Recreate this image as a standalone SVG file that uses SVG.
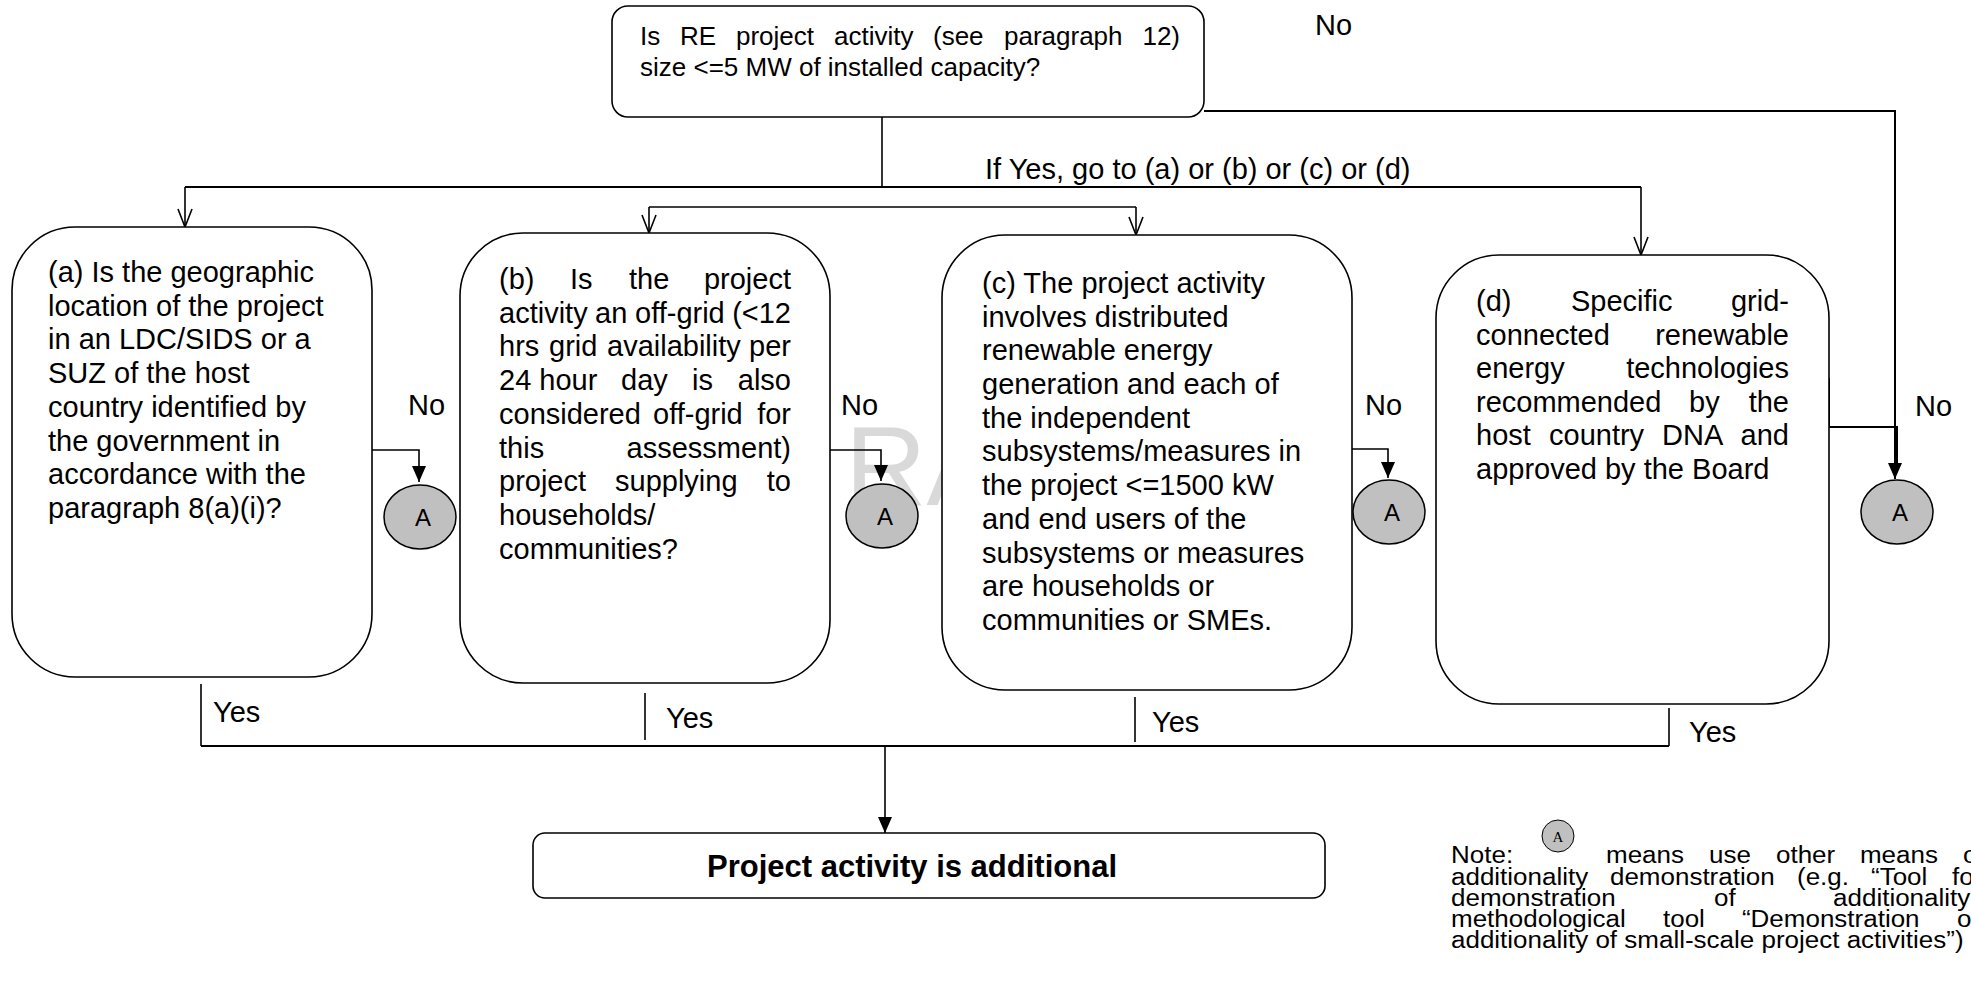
<svg xmlns="http://www.w3.org/2000/svg" width="1971" height="987" viewBox="0 0 1971 987">
<style>
.box{fill:#fff;stroke:#000;stroke-width:1.6}
.ln{fill:none;stroke:#000;stroke-width:1.6}
.lnb{fill:none;stroke:#000;stroke-width:2}
.t{font-family:"Liberation Sans",Arial,sans-serif;font-size:29px;fill:#000}
.tt{font-family:"Liberation Sans",Arial,sans-serif;font-size:26px;fill:#000}
.tn{font-family:"Liberation Sans",Arial,sans-serif;font-size:23px;fill:#000}
.e{text-anchor:end}
.circ{fill:#c0c0c0;stroke:#000;stroke-width:1.5}
.ca{font-family:"Liberation Sans",Arial,sans-serif;font-size:24px;fill:#000;text-anchor:middle}
.wm{font-family:"Liberation Sans",Arial,sans-serif;font-size:113px;fill:#d9d9d9}
</style>
<defs>
<marker id="open" viewBox="0 0 20 16" refX="19" refY="8" markerWidth="20" markerHeight="16" markerUnits="userSpaceOnUse" orient="auto"><path d="M1,1 L19,8 L1,15" fill="none" stroke="#000" stroke-width="1.6"/></marker>
<marker id="fill" viewBox="0 0 16 14" refX="16" refY="7" markerWidth="16" markerHeight="14" markerUnits="userSpaceOnUse" orient="auto"><path d="M0,0 L16,7 L0,14 z" fill="#000"/></marker>
</defs>
<rect width="1971" height="987" fill="#fff"/>
<text class="wm" x="845" y="505">RA</text>

<g id="connectors">
<path class="ln" d="M882,117 V187"/>
<path class="lnb" d="M185,187 H1641"/>
<path class="ln" d="M185,187 V227" marker-end="url(#open)"/>
<path class="ln" d="M649,207 H1136"/>
<path class="ln" d="M649,207 V233" marker-end="url(#open)"/>
<path class="ln" d="M1136,207 V235" marker-end="url(#open)"/>
<path class="ln" d="M1641,187 V255" marker-end="url(#open)"/>
<path class="lnb" d="M1204,111 H1895 V479" marker-end="url(#fill)"/>
<path class="lnb" d="M1829,378 V427 H1897 V466"/>
<path class="ln" d="M372,450 H419 V482" marker-end="url(#fill)"/>
<path class="ln" d="M830,450 H881 V481" marker-end="url(#fill)"/>
<path class="ln" d="M1352,449 H1388 V478" marker-end="url(#fill)"/>
<path class="ln" d="M201,684 V746"/>
<path class="ln" d="M645,693 V740"/>
<path class="ln" d="M1135,697 V742"/>
<path class="ln" d="M1669,708 V746"/>
<path class="lnb" d="M201,746 H1669"/>
<path class="ln" d="M885,746 V833" marker-end="url(#fill)"/>
</g>

<g id="labels">
<text class="t" x="1315" y="35">No</text>
<text class="t" x="985" y="179">If Yes, go to (a) or (b) or (c) or (d)</text>
<text class="t" x="408" y="415">No</text>
<text class="t" x="841" y="415">No</text>
<text class="t" x="1365" y="415">No</text>
<text class="t" x="1915" y="416">No</text>
<text class="t" x="213" y="722">Yes</text>
<text class="t" x="666" y="728">Yes</text>
<text class="t" x="1152" y="732">Yes</text>
<text class="t" x="1689" y="742">Yes</text>
</g>

<g id="node-top">
<rect class="box" x="612" y="6" width="592" height="111" rx="16"/>
<text class="tt" y="45"><tspan x="640">Is</tspan><tspan x="680">RE</tspan><tspan x="736">project</tspan><tspan x="834">activity</tspan><tspan x="933">(see</tspan><tspan x="1004">paragraph</tspan></text>
<text class="tt e" x="1180" y="45">12)</text>
<text class="tt" x="640" y="76">size &lt;=5 MW of installed capacity?</text>
</g>

<g id="node-a">
<rect class="box" x="12" y="227" width="360" height="450" rx="63"/>
<text class="t">
<tspan x="48" y="282">(a) Is the geographic</tspan>
<tspan x="48" y="316">location of the project</tspan>
<tspan x="48" y="349">in an LDC/SIDS or a</tspan>
<tspan x="48" y="383">SUZ of the host</tspan>
<tspan x="48" y="417">country identified by</tspan>
<tspan x="48" y="451">the government in</tspan>
<tspan x="48" y="484">accordance with the</tspan>
<tspan x="48" y="518">paragraph 8(a)(i)?</tspan>
</text>
</g>

<g id="node-b">
<rect class="box" x="460" y="233" width="370" height="450" rx="63"/>
<text class="t" y="289"><tspan x="499">(b)</tspan><tspan x="570">Is</tspan><tspan x="629">the</tspan></text>
<text class="t e" x="791" y="289">project</text>
<text class="t" y="323"><tspan x="499">activity</tspan><tspan x="595">an</tspan><tspan x="635">off-grid</tspan></text>
<text class="t e" x="791" y="323">(&lt;12</text>
<text class="t" y="356"><tspan x="499">hrs</tspan><tspan x="549">grid</tspan><tspan x="607">availability</tspan></text>
<text class="t e" x="791" y="356">per</text>
<text class="t" y="390"><tspan x="499">24 hour</tspan><tspan x="621">day</tspan><tspan x="692">is</tspan></text>
<text class="t e" x="791" y="390">also</text>
<text class="t" y="424"><tspan x="499">considered</tspan><tspan x="653">off-grid</tspan></text>
<text class="t e" x="791" y="424">for</text>
<text class="t" x="499" y="458">this</text>
<text class="t e" x="791" y="458">assessment)</text>
<text class="t" y="491"><tspan x="499">project</tspan><tspan x="615">supplying</tspan></text>
<text class="t e" x="791" y="491">to</text>
<text class="t" x="499" y="525">households/</text>
<text class="t" x="499" y="559">communities?</text>
</g>

<g id="node-c">
<rect class="box" x="942" y="235" width="410" height="455" rx="63"/>
<text class="t">
<tspan x="982" y="293">(c) The project activity</tspan>
<tspan x="982" y="327">involves distributed</tspan>
<tspan x="982" y="360">renewable energy</tspan>
<tspan x="982" y="394">generation and each of</tspan>
<tspan x="982" y="428">the independent</tspan>
<tspan x="982" y="461">subsystems/measures in</tspan>
<tspan x="982" y="495">the project &lt;=1500 kW</tspan>
<tspan x="982" y="529">and end users of the</tspan>
<tspan x="982" y="563">subsystems or measures</tspan>
<tspan x="982" y="596">are households or</tspan>
<tspan x="982" y="630">communities or SMEs.</tspan>
</text>
</g>

<g id="node-d">
<rect class="box" x="1436" y="255" width="393" height="449" rx="63"/>
<text class="t" y="311"><tspan x="1476">(d)</tspan><tspan x="1571">Specific</tspan></text>
<text class="t e" x="1789" y="311">grid-</text>
<text class="t" x="1476" y="345">connected</text>
<text class="t e" x="1789" y="345">renewable</text>
<text class="t" x="1476" y="378">energy</text>
<text class="t e" x="1789" y="378">technologies</text>
<text class="t" y="412"><tspan x="1476">recommended</tspan><tspan x="1689">by</tspan></text>
<text class="t e" x="1789" y="412">the</text>
<text class="t" y="445"><tspan x="1476">host</tspan><tspan x="1549">country</tspan><tspan x="1662">DNA</tspan></text>
<text class="t e" x="1789" y="445">and</text>
<text class="t" x="1476" y="479">approved by the Board</text>
</g>

<g id="node-A-a">
<ellipse class="circ" cx="420" cy="517" rx="36" ry="32"/>
<text class="ca" x="423" y="526">A</text>
</g>
<g id="node-A-b">
<ellipse class="circ" cx="882" cy="516" rx="36" ry="32"/>
<text class="ca" x="885" y="525">A</text>
</g>
<g id="node-A-c">
<ellipse class="circ" cx="1389" cy="512" rx="36" ry="32"/>
<text class="ca" x="1392" y="521">A</text>
</g>
<g id="node-A-d">
<ellipse class="circ" cx="1897" cy="512" rx="36" ry="32"/>
<text class="ca" x="1900" y="521">A</text>
</g>

<g id="node-final">
<rect class="box" x="533" y="833" width="792" height="65" rx="12"/>
<text x="912" y="877" style="font-family:'Liberation Sans',Arial,sans-serif;font-size:31px;font-weight:bold;text-anchor:middle">Project activity is additional</text>
</g>

<g id="note">
<ellipse cx="1558" cy="836" rx="16" ry="16" fill="#c0c0c0" stroke="#000" stroke-width="1"/>
<text x="1558" y="842" style="font-family:'Liberation Serif','Times New Roman',serif;font-size:15px;text-anchor:middle">A</text>
<g transform="translate(1451 0) scale(1.13 1)">
<text class="tn" y="863"><tspan x="0">Note:</tspan><tspan x="137.2">means</tspan><tspan x="228.3">use</tspan><tspan x="287.6">other</tspan><tspan x="361.9">means</tspan><tspan x="453.1">o</tspan></text>
<text class="tn" y="885"><tspan x="0">additionality</tspan><tspan x="140.7">demonstration</tspan><tspan x="306.2">(e.g.</tspan><tspan x="371.7">“Tool</tspan><tspan x="443.4">fo</tspan></text>
<text class="tn" y="906"><tspan x="0">demonstration</tspan><tspan x="232.7">of</tspan><tspan x="338.1">additionality</tspan></text>
<text class="tn" y="927"><tspan x="0">methodological</tspan><tspan x="187.6">tool</tspan><tspan x="257.5">“Demonstration</tspan><tspan x="447.8">o</tspan></text>
<text class="tn" x="0" y="948">additionality of small-scale project activities”)</text>
</g>
</g>
</svg>
